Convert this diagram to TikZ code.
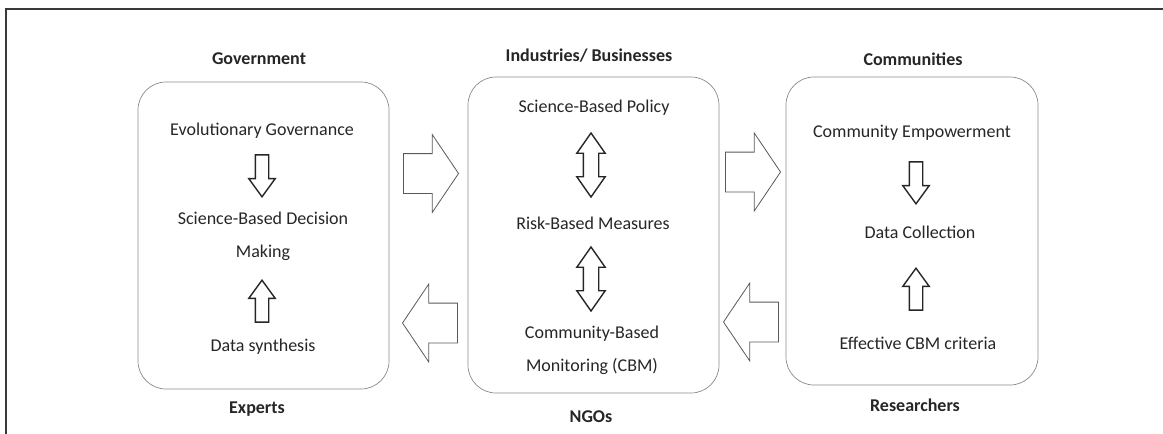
\documentclass[tikz,border=0pt]{standalone}
\usepackage{fontspec}
\setmainfont{Carlito}
\usetikzlibrary{shapes.arrows}
\definecolor{txt}{HTML}{262626}
\definecolor{frame}{HTML}{3A3A3A}
\definecolor{rim}{HTML}{8A8A8A}

\begin{document}
\begin{tikzpicture}[x=1pt,y=-1pt,
  group/.style={draw=rim,line width=0.7pt,rounded corners=28pt,inner sep=0pt},
  item/.style={font=\fontsize{18}{33}\selectfont,text=txt,align=center,inner sep=0pt},
  actor/.style={font=\fontsize{18}{20}\selectfont\bfseries,text=txt,inner sep=0pt},
  flow/.style={single arrow,draw=txt,line width=1.4pt,inner xsep=6pt,inner ysep=0pt,
    single arrow head extend=6.5pt,minimum height=42pt,single arrow tip angle=72,
    single arrow head indent=0pt,anchor=tip},
  swap/.style={double arrow,draw=txt,line width=1.4pt,inner xsep=7pt,inner ysep=0pt,
    double arrow head extend=6.5pt,minimum height=64pt,double arrow tip angle=70,
    double arrow head indent=0pt,shape border rotate=90},
  link/.style={single arrow,draw=gray!70!black,line width=0.8pt,inner xsep=0pt,inner ysep=19.5pt,
    single arrow head extend=19pt,minimum height=55pt,single arrow tip angle=112,
    single arrow head indent=0pt,anchor=tip}]
  \useasboundingbox (0,0) rectangle (1163,434);
  \draw[frame,line width=2.6pt] (1163,9) -- (6,9) -- (6,434);

  % the three groups
  \node[group,minimum width=251pt,minimum height=307pt] (gov) at (263.5,235.5) {};
  \node[group,minimum width=251pt,minimum height=316pt] (ind) at (593.5,235) {};
  \node[group,minimum width=252pt,minimum height=308pt] (com) at (912,231) {};

  \node[actor] (govt) at (259,59) {Government};
  \node[actor] (expt) at (257,409) {Experts};
  \node[actor] (indt) at (589,56) {Industries/ Businesses};
  \node[actor] (ngot) at (591,417) {NGOs};
  \node[actor] (comt) at (913,59) {Communities};
  \node[actor] (rest) at (915,405) {Researchers};

  % government
  \node[item] (evo) at (262,131) {Evolutionary Governance};
  \node[item] (sbd) at (263,236.5) {Science-Based Decision\\Making};
  \node[item] (syn) at (263,347) {Data synthesis};
  \node[flow,shape border rotate=270] (a1) at (262,198) {};
  \node[flow,shape border rotate=90] (a2) at (262,279) {};

  % industries
  \node[item] (pol) at (594,108) {Science-Based Policy};
  \node[item] (risk) at (593,223) {Risk-Based Measures};
  \node[item] (cbm) at (592,350) {Community-Based\\Monitoring (CBM)};
  \node[swap] (d1) at (591,165) {};
  \node[swap] (d2) at (591,279) {};

  % communities
  \node[item] (emp) at (912,133) {Community Empowerment};
  \node[item] (col) at (920,232) {Data Collection};
  \node[item] (cri) at (918,343) {Effective CBM criteria};
  \node[flow,shape border rotate=270] (a3) at (916,205) {};
  \node[flow,shape border rotate=90] (a4) at (916,267) {};

  % links between groups
  \node[link] (r1) at (459,173.5) {};
  \node[link,shape border rotate=180] (l1) at (402,323) {};
  \node[link] (r2) at (781,172) {};
  \node[link,shape border rotate=180] (l2) at (723,322) {};
\end{tikzpicture}
\end{document}
